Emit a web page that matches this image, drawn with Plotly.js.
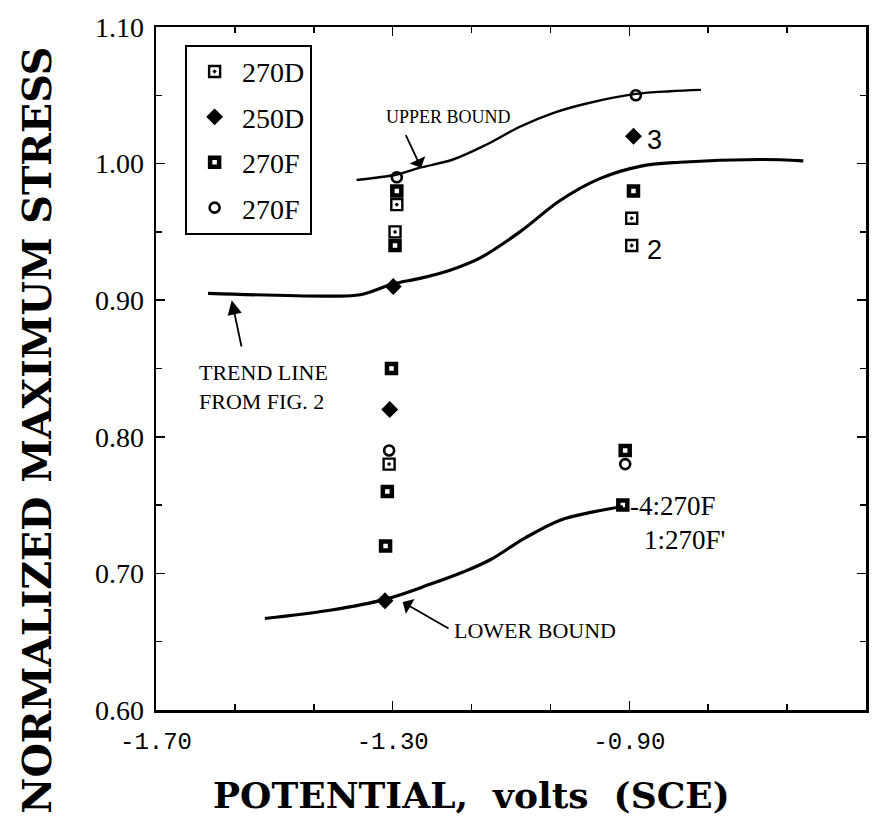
<!DOCTYPE html>
<html>
<head>
<meta charset="utf-8">
<script src="https://cdn.plot.ly/plotly-3.0.1.min.js"></script>
<style>html,body{margin:0;padding:0;background:#fff;}#chart{width:893px;height:829px;}</style>
</head>
<body>
<div id="chart"></div>
<script>
// ---- data ----
// 270D (open square with centre dot)
const d270D_x = [-1.293, -1.296, -1.306, -0.896, -0.896];
const d270D_y = [0.97, 0.95, 0.78, 0.96, 0.94];
// 250D (filled diamond)
const d250D_x = [-1.299, -1.305, -1.313, -0.893];
const d250D_y = [0.91, 0.82, 0.68, 1.02];
// 270F (filled square)
const d270Fs_x = [-1.293, -1.296, -1.302, -1.309, -1.312, -0.893, -0.907, -0.911];
const d270Fs_y = [0.98, 0.94, 0.85, 0.76, 0.72, 0.98, 0.79, 0.75];
// 270F (open circle)
const d270Fc_x = [-1.293, -1.306, -0.889, -0.907];
const d270Fc_y = [0.99, 0.79, 1.05, 0.78];

// curves
const upper_x = [-1.361, -1.293, -1.254, -1.198, -1.141, -1.085, -1.029, -0.972, -0.889, -0.831, -0.779];
const upper_y = [0.988, 0.992, 0.997, 1.003, 1.014, 1.027, 1.037, 1.044, 1.051, 1.053, 1.054];
const trend_x = [-1.612, -1.406, -1.355, -1.299, -1.254, -1.203, -1.152, -1.085, -1.017, -0.950, -0.882, -0.814, -0.679, -0.606];
const trend_y = [0.905, 0.903, 0.904, 0.912, 0.916, 0.922, 0.931, 0.950, 0.973, 0.989, 0.998, 1.001, 1.003, 1.002];
const lower_x = [-1.516, -1.406, -1.313, -1.237, -1.181, -1.135, -1.076, -1.017, -0.961, -0.911];
const lower_y = [0.667, 0.673, 0.681, 0.692, 0.701, 0.710, 0.726, 0.739, 0.745, 0.749];

const legendNames = ["270D", "250D", "270F", "270F"];
const xTickVals = [-1.70, -1.30, -0.90, -0.50];
const xTickText = ["-1.70", "-1.30", "-0.90", "-0.50"];
const yTickVals = [0.60, 0.70, 0.80, 0.90, 1.00, 1.10];
const yTickText = ["0.60", "0.70", "0.80", "0.90", "1.00", "1.10"];

const K = "#000";
const curve = (x, y, w) => ({x, y, mode: "lines", line: {color: K, width: w, shape: "spline", smoothing: 1}, showlegend: false, hoverinfo: "skip"});

const traces = [
  curve(upper_x, upper_y, 2.4),
  curve(trend_x, trend_y, 3.2),
  curve(lower_x, lower_y, 3.2),
  {x: d270D_x, y: d270D_y, name: legendNames[0], legendgroup: "a", mode: "markers",
   marker: {symbol: "square-open-dot", size: 11, color: K, line: {width: 2.4, color: K}}},
  {x: d250D_x, y: d250D_y, name: legendNames[1], legendgroup: "b", mode: "markers",
   marker: {symbol: "diamond", size: 13, color: K}},
  {x: d270Fs_x, y: d270Fs_y, name: legendNames[2], legendgroup: "c", mode: "markers",
   marker: {symbol: "square-open", size: 9, color: K, line: {width: 4.5, color: K}}},
  {x: d270Fc_x, y: d270Fc_y, name: legendNames[3], legendgroup: "d", mode: "markers",
   marker: {symbol: "circle-open", size: 10, color: K, line: {width: 2.6, color: K}}}
];

const serif = "Liberation Serif, Times New Roman, serif";
const bserif = "DejaVu Serif, serif";
const txt = (x, y, text, size, fam, xanchor) => ({x, y, xref: "x", yref: "y", text, showarrow: false,
  font: {family: fam || serif, size: size, color: K}, xanchor: xanchor || "center", yanchor: "middle"});
const arrow = (x, y, ax, ay, head) => ({x, y, ax, ay, xref: "x", yref: "y", axref: "x", ayref: "y", text: "",
  showarrow: true, arrowhead: head, arrowsize: 1.6, arrowwidth: 1.8, arrowcolor: K});

const annotations = [
  txt(-1.205, 1.034, "UPPER BOUND", 18),
  arrow(-1.252, 0.997, -1.279, 1.022, 1),
  txt(-1.631, 0.847, "TREND LINE", 22, serif, "left"),
  txt(-1.631, 0.826, "FROM FIG. 2", 22, serif, "left"),
  arrow(-1.572, 0.900, -1.555, 0.865, 2),
  txt(-1.059, 0.658, "LOWER BOUND", 22),
  arrow(-1.283, 0.679, -1.203, 0.659, 1),
  txt(-0.857, 0.937, "2", 27, "Liberation Sans, Arial, sans-serif"),
  txt(-0.857, 1.017, "3", 27, "Liberation Sans, Arial, sans-serif"),
  txt(-0.903, 0.7495, "-4:270F", 27, serif, "left"),
  txt(-0.879, 0.7245, "1:270F'", 27, serif, "left"),
  // axis titles
  {xref: "paper", yref: "paper", x: -0.168, y: 0.41, text: "NORMALIZED MAXIMUM STRESS", textangle: -90,
   showarrow: false, xanchor: "center", yanchor: "middle",
   font: {family: bserif, size: 39.5, color: K, weight: "bold"}},
  {xref: "paper", yref: "paper", x: 0.445, y: -0.125, text: "POTENTIAL,  volts  (SCE)",
   showarrow: false, xanchor: "center", yanchor: "middle",
   font: {family: bserif, size: 36, color: K, weight: "bold"}}
];

const layout = {
  width: 893, height: 829,
  margin: {l: 156, r: 27, t: 27, b: 119, pad: 0},
  paper_bgcolor: "#fff", plot_bgcolor: "#fff",
  showlegend: true,
  legend: {x: 0.041, y: 0.974, xanchor: "left", yanchor: "top", bgcolor: "#fff",
    bordercolor: K, borderwidth: 2, tracegroupgap: 6, itemwidth: 45,
    font: {family: serif, size: 28, color: K}},
  xaxis: {range: [-1.70, -0.50], tickvals: xTickVals, ticktext: xTickText,
    ticks: "inside", ticklen: 9, tickwidth: 1.5, tickcolor: K,
    showline: true, linewidth: 2.5, linecolor: K, mirror: "ticks",
    showgrid: false, zeroline: false, ticklabelstandoff: 8,
    minor: {tickvals: [-1.5667, -1.4333, -1.1667, -1.0333, -0.7667, -0.6333], ticks: "inside", ticklen: 6, tickcolor: K, tickwidth: 1.5, showgrid: false},
    tickfont: {family: "Liberation Mono, Courier New, monospace", size: 24, color: K}},
  yaxis: {range: [0.60, 1.10], tickvals: yTickVals, ticktext: yTickText,
    ticks: "inside", ticklen: 9, tickwidth: 1.5, tickcolor: K,
    showline: true, linewidth: 2.5, linecolor: K, mirror: "ticks",
    showgrid: false, zeroline: false, ticklabelstandoff: 4,
    minor: {dtick: 0.05, tick0: 0.6, ticks: "inside", ticklen: 6, tickcolor: K, tickwidth: 1.5, showgrid: false},
    tickfont: {family: serif, size: 28, color: K}},
  annotations: annotations
};

Plotly.newPlot("chart", traces, layout, {staticPlot: true, displayModeBar: false});
</script>
</body>
</html>
